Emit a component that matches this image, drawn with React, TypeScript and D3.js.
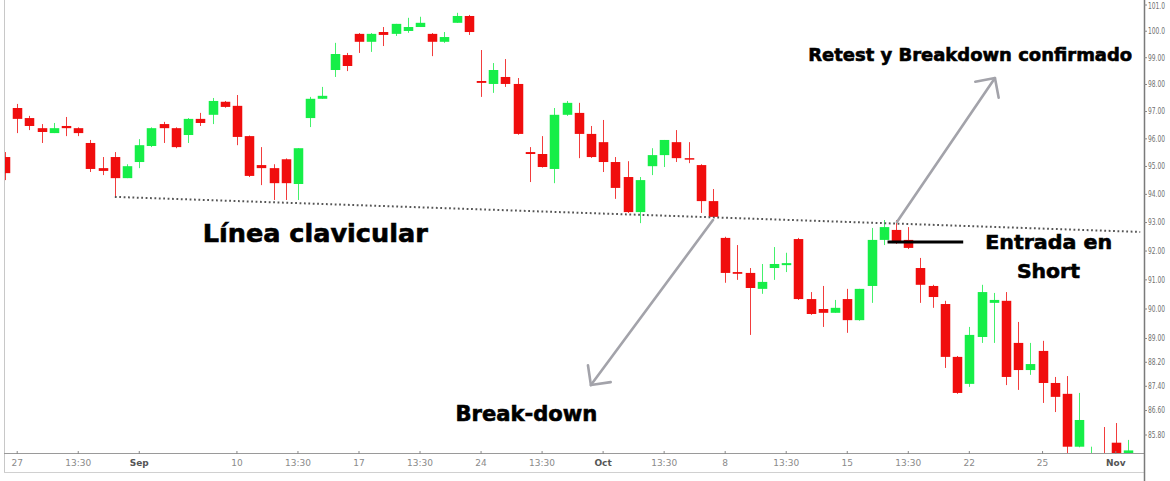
import React from 'react';
import * as d3 from 'd3';

// ---- Data ----
const OPEN = [95.34,97.13,96.76,96.39,96.21,96.47,96.39,95.85,94.94,95.34,94.58,95.16,95.74,96.54,96.39,96.14,96.73,96.88,97.36,97.21,96.10,95.05,94.94,95.26,94.37,96.76,97.47,98.54,99.10,99.90,99.60,99.97,99.90,100.01,100.16,99.90,99.60,100.32,100.58,98.13,98.02,98.28,98.02,95.52,95.45,94.91,96.88,96.95,96.18,95.88,95.16,94.62,93.37,95.01,95.41,95.88,95.30,95.05,93.76,92.46,91.27,91.24,90.69,91.41,91.51,92.42,90.34,90.00,89.87,90.34,89.62,90.79,92.39,92.74,92.39,91.41,90.79,90.17,88.38,87.48,89.05,90.21,90.28,88.85,87.94,88.58,87.51,87.15,85.42,85.15,85.20,85.55,85.20];
const HIGH = [95.52,97.28,96.84,96.54,96.58,96.80,96.42,95.96,95.34,95.52,95.08,95.99,96.42,96.62,96.42,96.76,96.95,97.50,97.39,97.61,96.12,95.70,95.08,95.29,95.66,97.54,97.91,99.56,99.18,99.93,99.93,100.16,100.28,100.51,100.55,99.93,99.97,100.70,100.62,99.29,98.80,98.95,98.24,95.70,96.10,97.13,97.39,97.32,96.47,96.69,95.34,95.19,94.62,95.66,95.96,96.32,95.88,95.08,94.19,92.50,92.21,91.41,91.55,92.14,91.94,92.46,90.58,90.79,90.31,90.69,90.69,92.81,93.09,93.09,92.84,91.76,90.83,90.28,88.41,89.39,90.83,90.55,90.58,89.56,88.85,88.92,87.71,87.74,87.18,85.42,86.06,86.19,85.64];
const LOW = [94.51,96.21,96.32,95.85,96.21,96.10,96.10,94.80,94.69,93.91,94.58,94.94,95.70,95.85,95.66,95.85,96.47,96.54,97.14,95.77,94.62,94.33,93.80,93.80,93.80,96.43,97.47,98.28,98.50,99.18,99.22,99.44,99.82,99.94,100.16,99.06,99.56,100.32,99.86,97.54,97.69,97.91,96.15,94.44,94.96,94.40,96.84,95.30,95.31,94.80,93.84,93.34,92.98,94.69,94.98,95.16,95.12,93.34,93.18,90.90,91.00,89.12,90.52,91.00,91.27,90.31,89.80,89.39,89.87,89.19,89.60,90.21,92.21,92.25,92.07,90.21,90.04,88.01,87.15,87.38,88.85,88.85,87.44,87.28,87.78,86.85,86.55,85.20,85.40,85.05,85.00,85.00,85.10];
const CLOSE = [94.76,96.73,96.47,96.25,96.39,96.39,96.21,94.91,94.84,94.58,95.01,95.77,96.39,96.39,95.70,96.73,96.58,97.39,97.17,96.07,94.66,94.94,94.40,94.40,95.66,97.47,97.58,99.14,98.69,99.60,99.90,99.86,100.28,100.16,100.32,99.60,99.78,100.58,99.97,98.06,98.54,98.02,96.18,95.45,94.98,96.88,97.32,96.18,95.34,95.16,94.23,93.37,94.51,95.41,95.96,95.30,95.26,93.76,93.20,91.24,91.21,90.72,90.93,91.55,91.58,90.34,89.83,89.87,90.04,89.62,90.69,92.39,92.84,92.28,92.11,90.83,90.41,88.38,87.18,89.12,90.58,90.31,87.71,87.94,88.14,87.51,87.05,85.42,86.29,85.20,85.10,85.20,85.30];

const PRICE_TICKS = [101, 100, 99, 98, 97, 96, 95, 94, 93, 92, 91, 90, 89, 88.2, 87.4, 86.6, 85.8];
const TIME_TICK_INDEX = [1, 6, 11, 19, 24, 29, 34, 39, 44, 49, 54, 59, 64, 69, 74, 79, 85, 91];
const TIME_TICK_LABELS = ['27', '13:30', 'Sep', '10', '13:30', '17', '13:30', '24', '13:30', 'Oct', '13:30', '8', '13:30', '15', '13:30', '22', '25', 'Nov'];
const MONTH_LABELS = ['Sep', 'Oct', 'Nov'];

// Annotations in (bar index, price) coordinates
const NECKLINE = [{ i: 9, p: 93.91 }, { i: 93, p: 92.67 }];
const BREAKDOWN_ARROW = [{ i: 58, p: 93.09 }, { i: 48, p: 87.44 }];
const RETEST_ARROW = [{ i: 73.07, p: 93.02 }, { i: 81.1, p: 98.24 }];
const ENTRY_LINE = [{ i: 72.3, p: 92.32 }, { i: 78.5, p: 92.32 }];
const NOTE_TEXTS = ['Línea clavicular', 'Break-down', 'Retest y Breakdown confirmado', 'Entrada en', 'Short'];
const NOTE_INDEX = [16.2, 36.9, 65.8, 80.3, 82.9];
const NOTE_PRICE = [92.32, 86.26, 98.87, 92.07, 91.07];

// ---- Layout ----
const W = 1170;
const H = 481;
const PLOT_L = 4;
const PLOT_R = 1144;
const PLOT_B = 453;
const FRAME_B = 472;
const NOTE_SIZE = [25, 21, 18, 20, 20];
const NOTE_LEN = [225, 142, 324, 127, 63];

const RED = '#f00d0d';
const GREEN = '#16ee48';

export default function App() {
  const x = d3.scaleLinear().domain([0, OPEN.length - 1]).range([5, 1128]);
  const y = d3.scaleLog().domain([85.8, 101]).range([435, 5]);
  const step = x(1) - x(0);
  const bw = step * 0.78;

  const arrow = (pts: { i: number; p: number }[]) => {
    const x1 = x(pts[0].i), y1 = y(pts[0].p), x2 = x(pts[1].i), y2 = y(pts[1].p);
    const ang = Math.atan2(y1 - y2, x1 - x2);
    const L = 20, a = Math.PI / 4;
    const h1 = [x2 + L * Math.cos(ang + a), y2 + L * Math.sin(ang + a)];
    const h2 = [x2 + L * Math.cos(ang - a), y2 + L * Math.sin(ang - a)];
    return (
      <g stroke="#a3a3aa" strokeWidth={2.6} fill="none" strokeLinecap="round" strokeLinejoin="round">
        <line x1={x1} y1={y1} x2={x2} y2={y2} />
        <polyline points={`${h1[0]},${h1[1]} ${x2},${y2} ${h2[0]},${h2[1]}`} />
      </g>
    );
  };

  return (
    <div style={{ position: 'absolute', left: 0, top: 0 }}>
      <svg width={W} height={H} style={{ display: 'block', background: '#fff' }}>
        <defs>
          <clipPath id="plot">
            <rect x={PLOT_L} y={0} width={PLOT_R - PLOT_L} height={PLOT_B} />
          </clipPath>
        </defs>
        <rect x={0} y={0} width={W} height={H} fill="#fff" />

        <g clipPath="url(#plot)">
          {OPEN.map((o, i) => {
            const c = CLOSE[i];
            const up = c >= o;
            const col = up ? GREEN : RED;
            const cx = Math.round(x(i)) + 0.5;
            const top = y(Math.max(o, c));
            const bot = y(Math.min(o, c));
            return (
              <g key={i}>
                <line x1={cx} x2={cx} y1={y(HIGH[i])} y2={y(LOW[i])} stroke={col} strokeWidth={1} opacity={0.8} />
                <rect x={cx - bw / 2} y={top} width={bw} height={Math.max(1.5, bot - top)} fill={col} />
              </g>
            );
          })}
        </g>

        {/* neckline */}
        <line
          x1={x(NECKLINE[0].i)} y1={y(NECKLINE[0].p)} x2={x(NECKLINE[1].i)} y2={y(NECKLINE[1].p)}
          stroke="#555" strokeWidth={2} strokeDasharray="1.8 2.6"
        />

        {/* entry line */}
        <line
          x1={x(ENTRY_LINE[0].i)} y1={y(ENTRY_LINE[0].p)} x2={x(ENTRY_LINE[1].i)} y2={y(ENTRY_LINE[1].p)}
          stroke="#000" strokeWidth={3}
        />

        {arrow(BREAKDOWN_ARROW)}
        {arrow(RETEST_ARROW)}

        {NOTE_TEXTS.map((t, k) => (
          <text
            key={k}
            x={x(NOTE_INDEX[k])}
            y={y(NOTE_PRICE[k])}
            fontFamily="'DejaVu Sans', sans-serif"
            fontWeight="bold"
            fontSize={NOTE_SIZE[k]}
            fill="#000"
            stroke="#000"
            strokeWidth={0.6}
            textLength={NOTE_LEN[k]}
            lengthAdjust="spacingAndGlyphs"
          >
            {t}
          </text>
        ))}

        {/* frame */}
        <line x1={PLOT_L + 0.5} x2={PLOT_L + 0.5} y1={0} y2={FRAME_B} stroke="#c8c8c8" strokeWidth={1} />
        <line x1={PLOT_L} x2={PLOT_R} y1={FRAME_B + 0.5} y2={FRAME_B + 0.5} stroke="#d0d0d0" strokeWidth={1} />
        <line x1={PLOT_L} x2={PLOT_R} y1={PLOT_B + 0.5} y2={PLOT_B + 0.5} stroke="#9a9a9a" strokeWidth={1.2} />
        <line x1={PLOT_R + 0.5} x2={PLOT_R + 0.5} y1={0} y2={H} stroke="#7a7a7a" strokeWidth={1.5} />

        {/* price axis */}
        {PRICE_TICKS.map((p) => (
          <g key={p}>
            <line x1={PLOT_R} x2={PLOT_R + 3} y1={y(p)} y2={y(p)} stroke="#888" />
            <text
              x={PLOT_R + 4}
              y={Math.max(y(p), 6)}
              dy="0.35em"
              fontFamily="'DejaVu Sans', sans-serif"
              fontSize={8}
              fill="#707070"
              textLength={17}
              lengthAdjust="spacingAndGlyphs"
            >
              {p >= 100 ? p.toFixed(1) : p.toFixed(2)}
            </text>
          </g>
        ))}

        {/* time axis */}
        {TIME_TICK_INDEX.map((ti, k) => {
          const isMonth = MONTH_LABELS.includes(TIME_TICK_LABELS[k]);
          return (
            <g key={k}>
              <line x1={x(ti)} x2={x(ti)} y1={PLOT_B - 2} y2={PLOT_B + 1} stroke="#888" />
              <text
                x={x(ti)}
                y={466}
                textAnchor="middle"
                fontFamily="'DejaVu Sans', sans-serif"
                fontSize={9}
                fill={isMonth ? '#555' : '#8a8a8a'}
                fontWeight={isMonth ? 'bold' : 'normal'}
              >
                {TIME_TICK_LABELS[k]}
              </text>
            </g>
          );
        })}
      </svg>
    </div>
  );
}
